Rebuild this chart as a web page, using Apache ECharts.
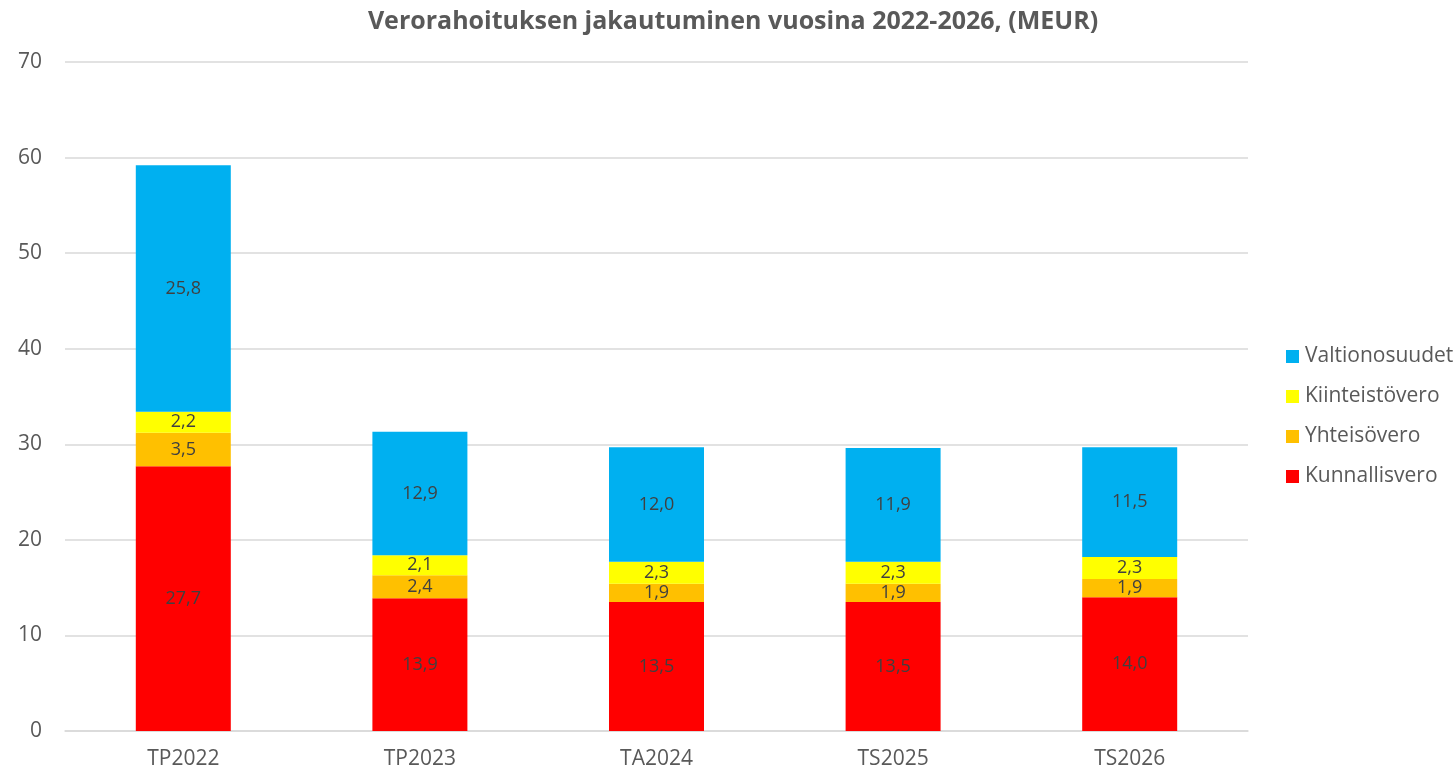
<!DOCTYPE html>
<html>
<head>
<meta charset="utf-8">
<script src="https://cdn.jsdelivr.net/npm/echarts@6/dist/echarts.min.js"></script>
<style>
  html, body { margin: 0; padding: 0; background: #fff; }
  #chart { width: 1456px; height: 773px; }
</style>
</head>
<body>
<div id="chart"></div>
<script>
var categories = ['TP2022', 'TP2023', 'TA2024', 'TS2025', 'TS2026'];
var kunnallisvero = [27.7, 13.9, 13.5, 13.5, 14.0];
var yhteisovero = [3.5, 2.4, 1.9, 1.9, 1.9];
var kiinteistovero = [2.2, 2.1, 2.3, 2.3, 2.3];
var valtionosuudet = [25.8, 12.9, 12.0, 11.9, 11.5];

var chart = echarts.init(document.getElementById('chart'));

function bar(name, data, color) {
  return {
    name: name,
    type: 'bar',
    stack: 'total',
    barWidth: 95,
    data: data,
    itemStyle: { color: color },
    label: {
      show: true,
      position: 'inside',
      color: '#404040',
      fontSize: 18,
      fontFamily: 'Open Sans',
      formatter: function (p) {
        return p.value.toFixed(1).replace('.', ',');
      }
    }
  };
}

var option = {
  backgroundColor: '#fff',
  animation: false,
  title: {
    text: 'Verorahoituksen jakautuminen vuosina 2022-2026, (MEUR)',
    left: 728,
    textAlign: 'center',
    top: 4,
    textStyle: {
      fontFamily: 'Open Sans',
      fontWeight: 'bold',
      fontSize: 25,
      color: '#595959'
    }
  },
  legend: {
    orient: 'vertical',
    left: 1281,
    top: 341,
    itemWidth: 13,
    itemHeight: 13,
    itemGap: 19,
    icon: 'rect',
    data: ['Valtionosuudet', 'Kiinteistövero', 'Yhteisövero', 'Kunnallisvero'],
    textStyle: { fontFamily: 'Open Sans', fontSize: 21, lineHeight: 21, color: '#595959', padding: [0, 0, 0, 1] }
  },
  grid: { left: 65, right: 208, top: 62, bottom: 42 },
  xAxis: {
    type: 'category',
    data: categories,
    axisLine: { lineStyle: { color: '#d9d9d9', width: 1.5 } },
    axisTick: { show: false },
    axisLabel: { fontFamily: 'Open Sans', fontSize: 21, color: '#595959', margin: 18 }
  },
  yAxis: {
    type: 'value',
    min: 0,
    max: 70,
    interval: 10,
    axisLine: { show: false },
    axisTick: { show: false },
    splitLine: { lineStyle: { color: '#d9d9d9', width: 1.5 } },
    axisLabel: { fontFamily: 'Open Sans', fontSize: 21, color: '#595959', margin: 23 }
  },
  series: [
    bar('Kunnallisvero', kunnallisvero, '#FF0000'),
    bar('Yhteisövero', yhteisovero, '#FFC000'),
    bar('Kiinteistövero', kiinteistovero, '#FFFF00'),
    bar('Valtionosuudet', valtionosuudet, '#00B0F0')
  ]
};

chart.setOption(option);
</script>
</body>
</html>
